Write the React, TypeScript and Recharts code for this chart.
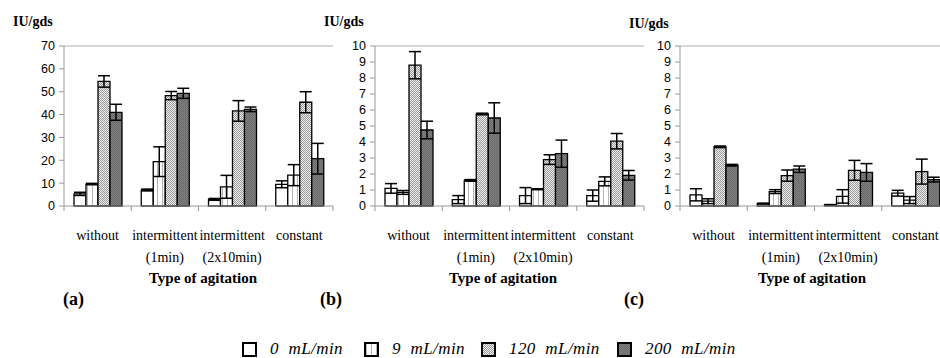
import { Bar, BarChart, ErrorBar, ReferenceLine, XAxis, YAxis } from "recharts";

// Agitation types (x categories) and aeration rates (series).
const categories = ["without", "intermittent (1min)", "intermittent (2x10min)", "constant"];
const seriesNames = ["0 mL/min", "9 mL/min", "120 mL/min", "200 mL/min"];

// Panel (a) — IU/gds, mean and error per series
const a0 = [5.3, 7.0, 2.9, 9.5];
const a0Err = [0.7, 0.4, 0.4, 1.5];
const a9 = [9.6, 19.4, 8.4, 13.5];
const a9Err = [0.3, 6.5, 5.0, 4.6];
const a120 = [54.5, 48.3, 41.6, 45.4];
const a120Err = [2.5, 1.8, 4.5, 4.6];
const a200 = [41.0, 49.3, 42.3, 20.7];
const a200Err = [3.5, 2.2, 1.0, 6.7];

// Panel (b)
const b0 = [1.1, 0.4, 0.65, 0.65];
const b0Err = [0.3, 0.25, 0.5, 0.35];
const b9 = [0.85, 1.6, 1.05, 1.54];
const b9Err = [0.12, 0.05, 0.03, 0.28];
const b120 = [8.8, 5.75, 2.9, 4.05];
const b120Err = [0.85, 0.05, 0.3, 0.48];
const b200 = [4.75, 5.5, 3.27, 1.92];
const b200Err = [0.55, 0.95, 0.85, 0.3];

// Panel (c)
const c0 = [0.7, 0.15, 0.07, 0.8];
const c0Err = [0.38, 0.03, 0.02, 0.18];
const c9 = [0.3, 0.9, 0.6, 0.37];
const c9Err = [0.15, 0.12, 0.42, 0.22];
const c120 = [3.7, 1.9, 2.23, 2.15];
const c120Err = [0.05, 0.35, 0.62, 0.78];
const c200 = [2.55, 2.3, 2.1, 1.65];
const c200Err = [0.05, 0.2, 0.55, 0.15];

const ticksA = [0, 10, 20, 30, 40, 50, 60, 70];
const ticksBC = [0, 1, 2, 3, 4, 5, 6, 7, 8, 9, 10];

const SERIF = '"Liberation Serif", "Times New Roman", serif';
const SANS = '"Liberation Sans", Arial, sans-serif';
const AXIS = "#999";
const FILLS = ["#ffffff", "url(#pat9)", "url(#pat120)", "url(#pat200)"];
const LEGEND_X = [242, 364, 481, 617];

const CHART_W = 340;
const CHART_H = 286;
const Y_W = 64;
const RIGHT = 7;
const BAND = (CHART_W - Y_W - RIGHT) / categories.length;

const rows = (vals: number[][], errs: number[][]) =>
  categories.map((name, i) => ({
    name,
    v0: vals[0][i], e0: errs[0][i],
    v1: vals[1][i], e1: errs[1][i],
    v2: vals[2][i], e2: errs[2][i],
    v3: vals[3][i], e3: errs[3][i],
  }));

const rowsA = rows([a0, a9, a120, a200], [a0Err, a9Err, a120Err, a200Err]);
const rowsB = rows([b0, b9, b120, b200], [b0Err, b9Err, b120Err, b200Err]);
const rowsC = rows([c0, c9, c120, c200], [c0Err, c9Err, c120Err, c200Err]);

function Patterns() {
  return (
    <svg width={0} height={0} style={{ position: "absolute" }}>
      <defs>
        <pattern id="pat9" width="5" height="4" patternUnits="userSpaceOnUse">
          <rect width="5" height="4" fill="#fff" />
          <rect x="2" width="1" height="4" fill="#b5b5b5" />
        </pattern>
        <pattern id="pat120" width="2" height="2" patternUnits="userSpaceOnUse">
          <rect width="2" height="2" fill="#eeeeee" />
          <rect width="1" height="1" fill="#9a9a9a" />
          <rect x="1" y="1" width="1" height="1" fill="#9a9a9a" />
        </pattern>
        <pattern id="pat200" width="2" height="2" patternUnits="userSpaceOnUse">
          <rect width="2" height="2" fill="#808080" />
          <rect width="1" height="1" fill="#6a6a6a" />
          <rect x="1" y="1" width="1" height="1" fill="#6a6a6a" />
        </pattern>
      </defs>
    </svg>
  );
}

/** Category label (split before the bracket) plus boundary tick marks. */
function CatTick(props: any) {
  const { x, y, payload, index } = props;
  const [l1, ...rest] = String(payload.value).split(" ");
  const l2 = rest.join(" ");
  const top = y - 8;
  return (
    <g>
      <line x1={x - BAND / 2} x2={x - BAND / 2} y1={top} y2={top + 5} stroke={AXIS} />
      {index === categories.length - 1 && (
        <line x1={x + BAND / 2} x2={x + BAND / 2} y1={top} y2={top + 5} stroke={AXIS} />
      )}
      <text x={x} y={top + 34} textAnchor="middle" fontFamily={SERIF} fontSize={14} fill="#000">
        {l1}
      </text>
      {l2 && (
        <text x={x} y={top + 56} textAnchor="middle" fontFamily={SERIF} fontSize={14} fill="#000">
          {l2}
        </text>
      )}
    </g>
  );
}

function Panel({ data, max, ticks }: { data: any[]; max: number; ticks: number[] }) {
  return (
    <BarChart
      width={CHART_W}
      height={CHART_H}
      data={data}
      margin={{ top: 46, right: RIGHT, bottom: 0, left: 0 }}
      barGap={0}
      barSize={12}
    >
      <XAxis
        dataKey="name"
        height={80}
        interval={0}
        tickLine={false}
        axisLine={{ stroke: AXIS }}
        tick={<CatTick />}
      />
      <YAxis
        domain={[0, max]}
        ticks={ticks}
        width={Y_W}
        tickSize={5}
        tickMargin={4}
        interval={0}
        axisLine={{ stroke: AXIS }}
        tickLine={{ stroke: AXIS }}
        tick={{ fill: "#000", fontSize: 12.5, fontFamily: SANS }}
      />
      <YAxis
        yAxisId="frame"
        orientation="right"
        width={0}
        tick={false}
        tickLine={false}
        axisLine={{ stroke: "#b0b0b0" }}
      />
      <ReferenceLine y={max} stroke="#b0b0b0" />
      {[0, 1, 2, 3].map((k) => (
        <Bar
          key={k}
          dataKey={`v${k}`}
          name={seriesNames[k]}
          fill={FILLS[k]}
          stroke="#000"
          strokeWidth={1.3}
          isAnimationActive={false}
        >
          <ErrorBar dataKey={`e${k}`} width={6} stroke="#000" strokeWidth={1.5} />
        </Bar>
      ))}
    </BarChart>
  );
}

const textBold = { position: "absolute" as const, fontFamily: SERIF, fontWeight: 700, color: "#000" };

export default function App() {
  const panels = [
    { left: 0, data: rowsA, max: 70, ticks: ticksA, unitX: 13, unitY: 14, tag: "(a)", tagX: 63, titleX: 203 },
    { left: 311, data: rowsB, max: 10, ticks: ticksBC, unitX: 324, unitY: 14, tag: "(b)", tagX: 320, titleX: 503 },
    { left: 616, data: rowsC, max: 10, ticks: ticksBC, unitX: 629, unitY: 16, tag: "(c)", tagX: 624, titleX: 812 },
  ];
  return (
    <div
      style={{
        position: "absolute",
        left: 0,
        top: 0,
        width: 940,
        height: 358,
        overflow: "hidden",
        background: "#fff",
      }}
    >
      <Patterns />
      {panels.map((p) => (
        <div key={p.tag}>
          <div style={{ position: "absolute", left: p.left, top: 0 }}>
            <Panel data={p.data} max={p.max} ticks={p.ticks} />
          </div>
          <div style={{ ...textBold, left: p.unitX, top: p.unitY, fontSize: 14 }}>IU/gds</div>
          <div
            style={{
              ...textBold,
              left: p.titleX - 80,
              width: 160,
              textAlign: "center",
              top: 270,
              fontSize: 15,
            }}
          >
            Type of agitation
          </div>
          <div style={{ ...textBold, left: p.tagX, top: 289, fontSize: 18 }}>{p.tag}</div>
        </div>
      ))}
      {seriesNames.map((n, k) => (
        <div
          key={n}
          style={{
            position: "absolute",
            left: LEGEND_X[k],
            top: 339,
            height: 20,
            display: "flex",
            alignItems: "center",
            gap: 13,
            fontFamily: SERIF,
            fontStyle: "italic",
            fontSize: 17,
            wordSpacing: 5,
            letterSpacing: 0.4,
            whiteSpace: "nowrap",
          }}
        >
          <svg width={15} height={15}>
            <rect x={1} y={1} width={13} height={13} fill={FILLS[k]} stroke="#000" strokeWidth={2} />
          </svg>
          <span>{n}</span>
        </div>
      ))}
    </div>
  );
}
